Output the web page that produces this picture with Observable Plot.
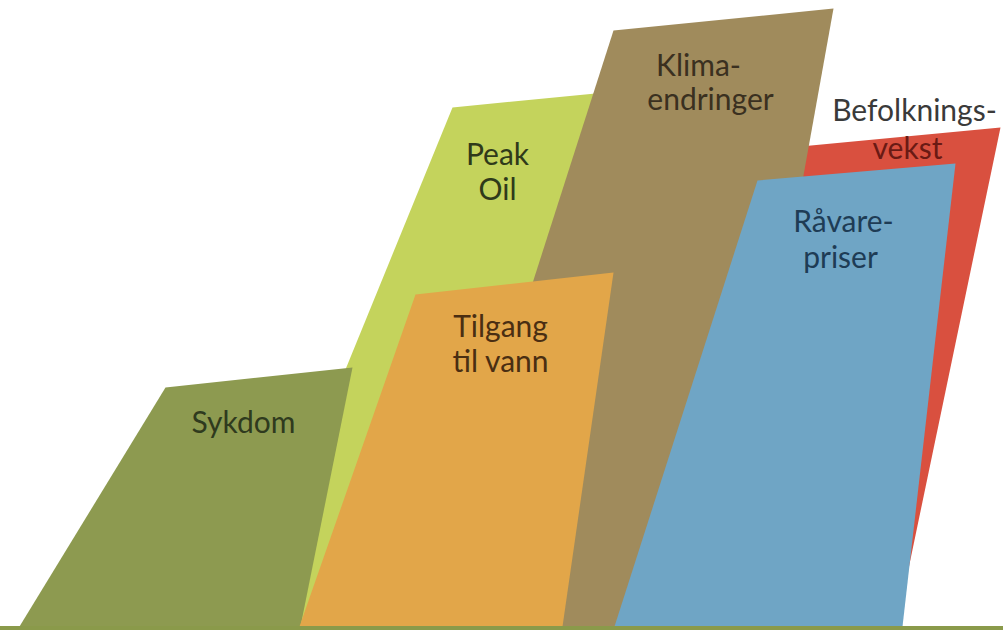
<!DOCTYPE html>
<html>
<head>
<meta charset="utf-8">
<script src="https://cdn.jsdelivr.net/npm/d3@7"></script>
<script src="https://cdn.jsdelivr.net/npm/@observablehq/plot@0.6"></script>
<style>
  html, body { margin: 0; padding: 0; background: #ffffff; }
  #chart svg { display: block; }
</style>
</head>
<body>
<div id="chart"></div>
<script>
// Shapes, listed back to front (heights measured up from the baseline)
const categories = ["Peak Oil", "Befolkningsvekst", "Klimaendringer", "Sykdom", "Tilgang til vann", "Råvarepriser"];
const baseLeft   = [240, 700, 422, 19, 299, 614];
const baseRight  = [460, 896, 722, 300, 562, 902];
const topLeftX   = [452, 800, 613, 165, 415, 757];
const topRightX  = [595, 1000, 833, 352, 613, 955];
const topLeftH   = [519, 480, 596, 239, 332, 446];
const topRightH  = [533, 499, 618, 259, 354, 463];
const colors     = ["#c4d35c", "#d9503f", "#a08b5c", "#8d9a50", "#e2a649", "#6fa5c5"];

// Labels (one entry per text line)
const labelText  = ["Sykdom", "Peak", "Oil", "Tilgang", "til vann", "Klima-", "endringer", "Befolknings-", "vekst", "Råvare-", "priser"];
const labelX     = [243, 497, 497, 500, 500, 698, 710, 914, 907, 843, 840];
const labelH     = [203, 471, 436, 299, 264, 560, 526, 515, 477, 404, 368];
const labelColor = ["#2f3a1e", "#2f3a1a", "#2f3a1a", "#4a2e12", "#4a2e12", "#3a3020", "#3a3020", "#3a3a3a", "#6a1a14", "#1e3c55", "#1e3c55"];

const shapes = categories.map((c, i) => [
  {cat: c, x: baseLeft[i], y: 0},
  {cat: c, x: topLeftX[i], y: topLeftH[i]},
  {cat: c, x: topRightX[i], y: topRightH[i]},
  {cat: c, x: baseRight[i], y: 0}
]);

const labels = labelText.map((t, i) => ({t, x: labelX[i], y: labelH[i], c: labelColor[i]}));

const marks = shapes.map((pts, i) =>
  Plot.line(pts, {x: "x", y: "y", fill: colors[i], stroke: "none", curve: "linear-closed"})
);
marks.push(Plot.ruleY([0], {stroke: "#8a9a4a", strokeWidth: 5, dy: 2}));
marks.push(Plot.text(labels, {
  x: "x", y: "y", text: "t", fill: "c",
  fontSize: 30, fontFamily: "Lato, 'Open Sans', sans-serif", textAnchor: "middle"
}));

const chart = Plot.plot({
  width: 1003,
  height: 630,
  marginTop: 0,
  marginRight: 0,
  marginBottom: 4,
  marginLeft: 0,
  x: {domain: [0, 1003], axis: null},
  y: {domain: [0, 626], axis: null},
  style: {background: "#ffffff", overflow: "visible"},
  marks
});
document.getElementById("chart").appendChild(chart);
</script>
</body>
</html>
